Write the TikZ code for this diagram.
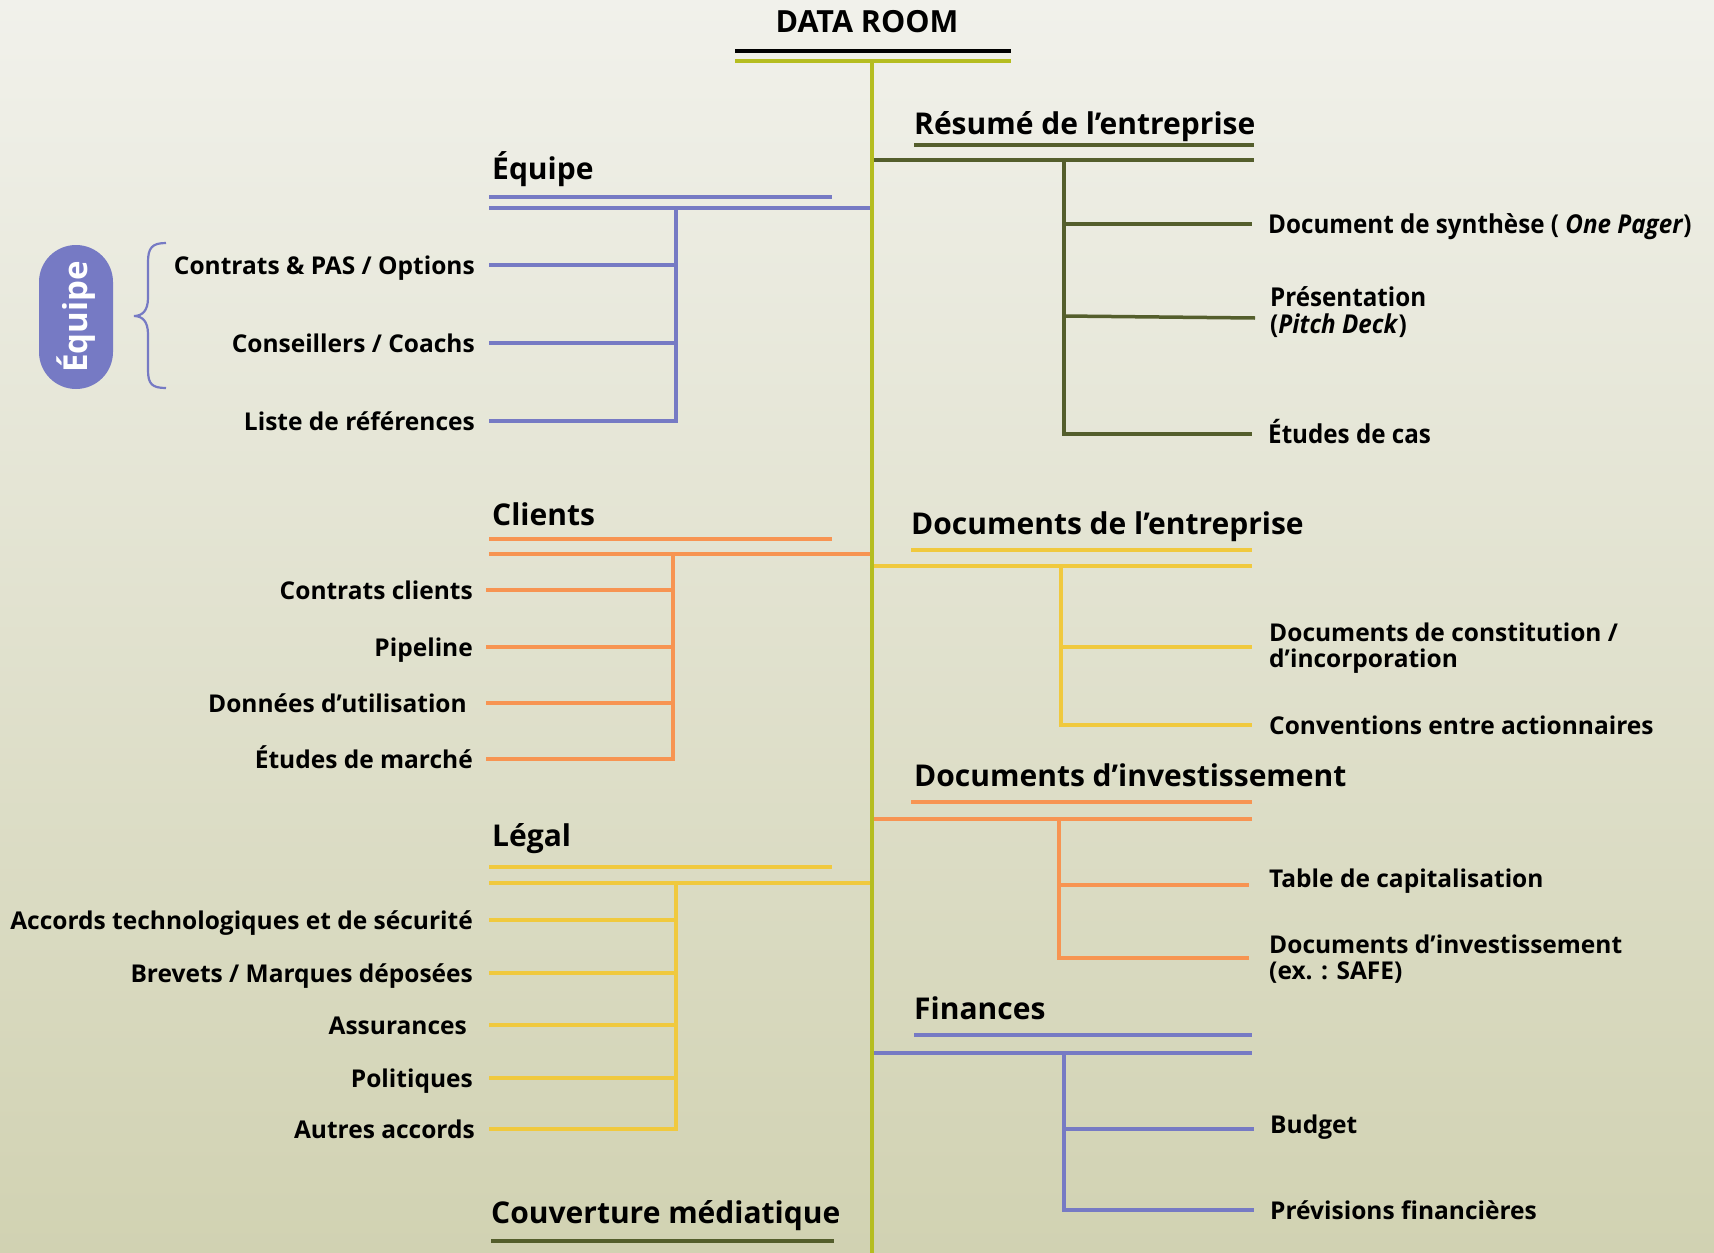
\documentclass[tikz,border=0pt]{standalone}
\usepackage{fontspec}
\setmainfont{Open Sans}
\newfontfamily\condf{Open Sans}[FakeStretch=0.93]
\definecolor{trunkc}{RGB}{181,189,32}
\definecolor{olive}{RGB}{84,94,44}
\definecolor{purp}{RGB}{118,122,196}
\definecolor{orng}{RGB}{247,148,82}
\definecolor{yell}{RGB}{240,201,62}
\definecolor{bgtop}{RGB}{241,241,235}
\definecolor{bgbot}{RGB}{209,210,178}
\begin{document}
\begin{tikzpicture}[x=1pt,y=-1pt,
  itemt/.style={font=\fontsize{24.5}{25.5}\selectfont\bfseries, inner sep=0pt, align=left},
  condt/.style={font=\condf\fontsize{26}{27}\selectfont\bfseries, inner sep=0pt, align=left},
  headt/.style={font=\fontsize{30}{32}\selectfont\bfseries, inner sep=0pt, anchor=base west},
  ln/.style={line width=3.5pt},
]
\shade[top color=bgtop, bottom color=bgbot] (0,0) rectangle (1714,1253);
\useasboundingbox (0,0) rectangle (1714,1253);

% title
\node[font=\fontsize{30.5}{32}\selectfont\bfseries, inner sep=0pt, anchor=base] (title) at (867,32) {DATA ROOM};
\coordinate (tl) at (735,51); \coordinate (tr) at (1011,51);
\coordinate (gl) at (735,61); \coordinate (gr) at (1011,61);
\draw[ln, black] (tl) -- (tr);
\draw[ln, trunkc] (gl) -- (gr);

% ---------- Right: Résumé (olive)
\node[headt] (hR) at (914,134) {Résumé de l’entreprise};
\coordinate (hRu1) at (914,145); \coordinate (hRu2) at (1254,145);
\coordinate (hRb1) at (872,160); \coordinate (hRb2) at (1254,160);
\coordinate (hRj) at (1064,160);
\draw[ln, olive] (hRu1) -- (hRu2);
\draw[ln, olive] (hRb1) -- (hRb2);
\node[condt, anchor=base west] (r1) at (1268,233) {Document de synthèse ( \textit{One Pager})};
\node[condt, anchor=west] (r2) at (1270,312) {Présentation\\(\textit{Pitch Deck})};
\node[condt, anchor=base west] (r3) at (1268,443) {Études de cas};
\coordinate (r1a) at (1064,224); \coordinate (r1b) at (1252,224);
\coordinate (r2a) at (1064,316); \coordinate (r2b) at (1255,318);
\coordinate (r3a) at (1064,434); \coordinate (r3b) at (1252,434);
\draw[ln, olive] (hRj) -- (r3a) -- (r3b);
\draw[ln, olive] (r1a) -- (r1b);
\draw[ln, olive] (r2a) -- (r2b);

% ---------- Right: Documents de l'entreprise (yellow)
\node[headt] (hD) at (911,534) {Documents de l’entreprise};
\coordinate (hDu1) at (911,550); \coordinate (hDu2) at (1252,550);
\coordinate (hDb1) at (872,566); \coordinate (hDb2) at (1252,566);
\coordinate (hDj) at (1061,566);
\draw[ln, yell] (hDu1) -- (hDu2);
\draw[ln, yell] (hDb1) -- (hDb2);
\node[itemt, anchor=west] (d1) at (1269,648) {Documents de constitution /\\d’incorporation};
\node[itemt, anchor=base west] (d2) at (1269,734) {Conventions entre actionnaires};
\coordinate (d1a) at (1061,647); \coordinate (d1b) at (1252,647);
\coordinate (d2a) at (1061,725); \coordinate (d2b) at (1252,725);
\draw[ln, yell] (hDj) -- (d2a) -- (d2b);
\draw[ln, yell] (d1a) -- (d1b);

% ---------- Right: Documents d'investissement (orange)
\node[headt] (hI) at (914,786) {Documents d’investissement};
\coordinate (hIu1) at (911,802); \coordinate (hIu2) at (1252,802);
\coordinate (hIb1) at (872,819); \coordinate (hIb2) at (1252,819);
\coordinate (hIj) at (1059,819);
\draw[ln, orng] (hIu1) -- (hIu2);
\draw[ln, orng] (hIb1) -- (hIb2);
\node[itemt, anchor=base west] (i1) at (1269,887) {Table de capitalisation};
\node[itemt, anchor=west] (i2) at (1269,959) {Documents d’investissement\\(ex. : SAFE)};
\coordinate (i1a) at (1059,885); \coordinate (i1b) at (1249,885);
\coordinate (i2a) at (1059,958); \coordinate (i2b) at (1249,958);
\draw[ln, orng] (hIj) -- (i2a) -- (i2b);
\draw[ln, orng] (i1a) -- (i1b);

% ---------- Right: Finances (purple)
\node[headt] (hF) at (914,1019) {Finances};
\coordinate (hFu1) at (914,1035); \coordinate (hFu2) at (1252,1035);
\coordinate (hFb1) at (872,1053); \coordinate (hFb2) at (1252,1053);
\coordinate (hFj) at (1064,1053);
\draw[ln, purp] (hFu1) -- (hFu2);
\draw[ln, purp] (hFb1) -- (hFb2);
\node[itemt, anchor=base west] (f1) at (1270,1133) {Budget};
\node[itemt, anchor=base west] (f2) at (1270,1219) {Prévisions financières};
\coordinate (f1a) at (1064,1129); \coordinate (f1b) at (1254,1129);
\coordinate (f2a) at (1064,1210); \coordinate (f2b) at (1254,1210);
\draw[ln, purp] (hFj) -- (f2a) -- (f2b);
\draw[ln, purp] (f1a) -- (f1b);

% ---------- Left: Équipe (purple)
\node[headt] (hE) at (492,179) {Équipe};
\coordinate (hEu1) at (489,197); \coordinate (hEu2) at (832,197);
\coordinate (hEb1) at (489,208); \coordinate (hEb2) at (872,208);
\coordinate (hEj) at (676,208);
\draw[ln, purp] (hEu1) -- (hEu2);
\draw[ln, purp] (hEb1) -- (hEb2);
\node[itemt, anchor=base east] (e1) at (475,274) {Contrats \& PAS / Options};
\node[itemt, anchor=base east] (e2) at (475,352) {Conseillers / Coachs};
\node[itemt, anchor=base east] (e3) at (475,430) {Liste de références};
\coordinate (e1a) at (489,265); \coordinate (e1b) at (676,265);
\coordinate (e2a) at (489,343); \coordinate (e2b) at (676,343);
\coordinate (e3a) at (489,421); \coordinate (e3b) at (676,421);
\draw[ln, purp] (e3a) -- (e3b) -- (hEj);
\draw[ln, purp] (e1a) -- (e1b);
\draw[ln, purp] (e2a) -- (e2b);

% pill + brace
\node[fill=purp, rounded corners=37pt, minimum width=144pt, minimum height=74pt, rotate=90,
      text=white, font=\fontsize{33}{34}\selectfont\bfseries, inner sep=0pt] (pill) at (76,317) {Équipe};
\draw[purp, line width=2.2pt] (166,243) .. controls (152,243) and (148,248) .. (148,262)
  -- (148,298) .. controls (148,311) and (142,316) .. (134,316)
  .. controls (142,316) and (148,321) .. (148,334)
  -- (148,370) .. controls (148,384) and (152,388) .. (166,388);

% ---------- Left: Clients (orange)
\node[headt] (hC) at (492,525) {Clients};
\coordinate (hCu1) at (489,539); \coordinate (hCu2) at (832,539);
\coordinate (hCb1) at (489,554); \coordinate (hCb2) at (872,554);
\coordinate (hCj) at (673,554);
\draw[ln, orng] (hCu1) -- (hCu2);
\draw[ln, orng] (hCb1) -- (hCb2);
\node[itemt, anchor=base east] (c1) at (473,599) {Contrats clients};
\node[itemt, anchor=base east] (c2) at (473,656) {Pipeline};
\node[itemt, anchor=base east] (c3) at (467,712) {Données d’utilisation};
\node[itemt, anchor=base east] (c4) at (473,768) {Études de marché};
\coordinate (c1a) at (486,590); \coordinate (c1b) at (673,590);
\coordinate (c2a) at (486,647); \coordinate (c2b) at (673,647);
\coordinate (c3a) at (486,703); \coordinate (c3b) at (673,703);
\coordinate (c4a) at (486,759); \coordinate (c4b) at (673,759);
\draw[ln, orng] (c4a) -- (c4b) -- (hCj);
\draw[ln, orng] (c1a) -- (c1b);
\draw[ln, orng] (c2a) -- (c2b);
\draw[ln, orng] (c3a) -- (c3b);

% ---------- Left: Légal (yellow)
\node[headt] (hL) at (492,846) {Légal};
\coordinate (hLu1) at (489,867); \coordinate (hLu2) at (832,867);
\coordinate (hLb1) at (489,883); \coordinate (hLb2) at (872,883);
\coordinate (hLj) at (676,883);
\draw[ln, yell] (hLu1) -- (hLu2);
\draw[ln, yell] (hLb1) -- (hLb2);
\node[itemt, anchor=base east] (l1) at (473,929) {Accords technologiques et de sécurité};
\node[itemt, anchor=base east] (l2) at (473,982) {Brevets / Marques déposées};
\node[itemt, anchor=base east] (l3) at (467,1034) {Assurances};
\node[itemt, anchor=base east] (l4) at (473,1087) {Politiques};
\node[itemt, anchor=base east] (l5) at (475,1138) {Autres accords};
\coordinate (l1a) at (489,920); \coordinate (l1b) at (676,920);
\coordinate (l2a) at (489,973); \coordinate (l2b) at (676,973);
\coordinate (l3a) at (489,1025); \coordinate (l3b) at (676,1025);
\coordinate (l4a) at (489,1078); \coordinate (l4b) at (676,1078);
\coordinate (l5a) at (489,1129); \coordinate (l5b) at (676,1129);
\draw[ln, yell] (l5a) -- (l5b) -- (hLj);
\draw[ln, yell] (l1a) -- (l1b);
\draw[ln, yell] (l2a) -- (l2b);
\draw[ln, yell] (l3a) -- (l3b);
\draw[ln, yell] (l4a) -- (l4b);

% ---------- Left: Couverture médiatique
\node[headt] (hM) at (491,1223) {Couverture médiatique};
\coordinate (hMu1) at (491,1241); \coordinate (hMu2) at (834,1241);
\draw[ln, olive] (hMu1) -- (hMu2);

% trunk
\coordinate (top) at (872,61); \coordinate (bot) at (872,1253);
\draw[ln, trunkc] (top) -- (bot);
\end{tikzpicture}
\end{document}
